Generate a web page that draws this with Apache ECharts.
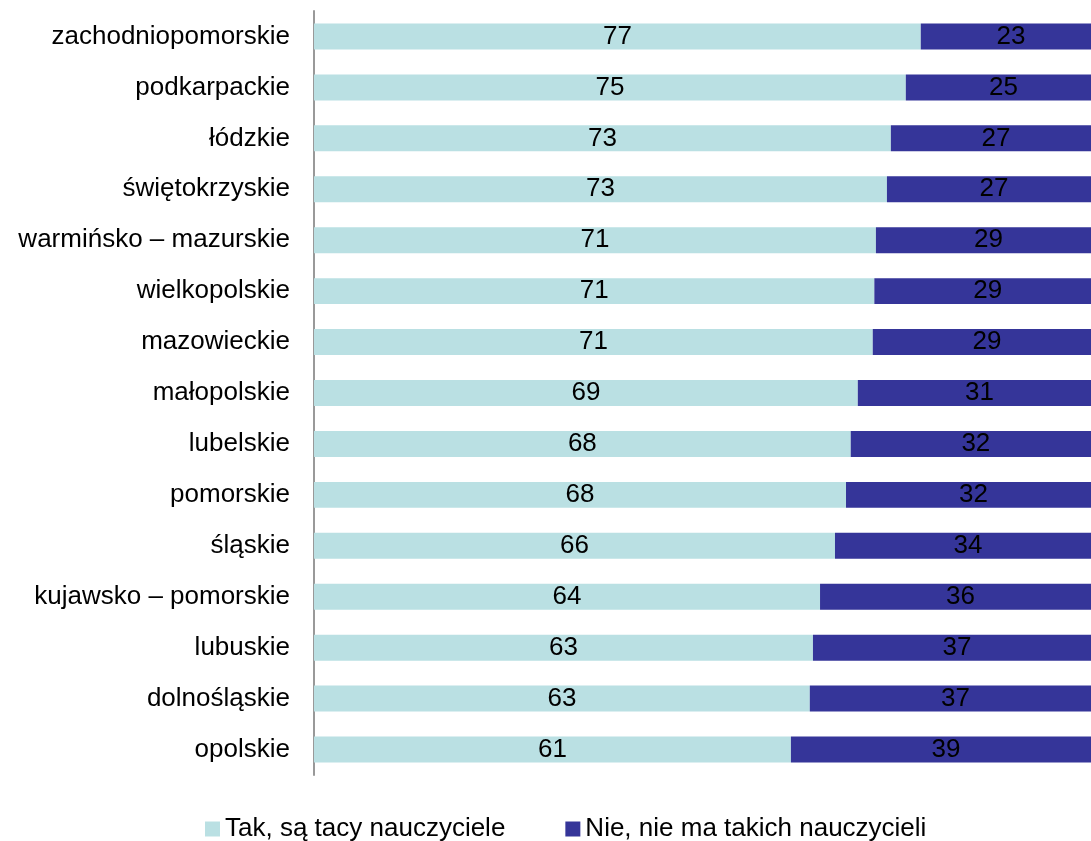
<!DOCTYPE html>
<html>
<head>
<meta charset="utf-8">
<script src="https://cdn.jsdelivr.net/npm/echarts@6/dist/echarts.min.js"></script>
<style>
  html, body { margin: 0; padding: 0; background: #fff; }
  #chart { width: 1091px; height: 841px; }
</style>
</head>
<body>
<div id="chart"></div>
<script>
const regions = [
  "zachodniopomorskie", "podkarpackie", "łódzkie", "świętokrzyskie",
  "warmińsko – mazurskie", "wielkopolskie", "mazowieckie", "małopolskie",
  "lubelskie", "pomorskie", "śląskie", "kujawsko – pomorskie",
  "lubuskie", "dolnośląskie", "opolskie"
];
const tak = [77.1, 75.2, 73.3, 72.8, 71.4, 71.2, 71.0, 69.1, 68.2, 67.6, 66.2, 64.3, 63.4, 63.0, 60.6];
const nie = [22.9, 24.8, 26.7, 27.2, 28.6, 28.8, 29.0, 30.9, 31.8, 32.4, 33.8, 35.7, 36.6, 37.0, 39.4];
const seriesNames = ["Tak, są tacy nauczyciele", "Nie, nie ma takich nauczycieli"];

const chart = echarts.init(document.getElementById("chart"));

// value labels show whole percents
const labelStyle = {
  show: true,
  position: "inside",
  color: "#000",
  fontFamily: "Liberation Sans",
  fontSize: 26,
  formatter: (p) => Math.round(p.value),
};

chart.setOption({
  animation: false,
  textStyle: { fontFamily: "Liberation Sans" },
  grid: { left: 314, right: 0, top: 11, bottom: 66 },
  legend: {
    data: seriesNames,
    left: 200,
    top: 811,
    icon: "rect",
    itemWidth: 15,
    itemHeight: 15,
    itemGap: 60,
    textStyle: { fontSize: 26, color: "#000", fontFamily: "Liberation Sans" },
  },
  // the 100% end sits a bit past the right edge of the picture, so bars get cut off
  xAxis: {
    type: "value",
    min: 0,
    max: 98.73,
    show: false,
  },
  yAxis: {
    type: "category",
    data: regions,
    inverse: true,
    axisLine: { show: true, lineStyle: { color: "#999", width: 2 } },
    axisTick: { show: false },
    axisLabel: { color: "#000", fontSize: 26, margin: 24, fontFamily: "Liberation Sans" },
  },
  series: [
    {
      name: seriesNames[0],
      type: "bar",
      stack: "total",
      barWidth: "51%",
      clip: false,
      data: tak,
      itemStyle: { color: "#BAE0E3" },
      label: labelStyle,
    },
    {
      name: seriesNames[1],
      type: "bar",
      stack: "total",
      barWidth: "51%",
      clip: false,
      data: nie,
      itemStyle: { color: "#353599" },
      label: labelStyle,
    },
  ],
});
</script>
</body>
</html>
